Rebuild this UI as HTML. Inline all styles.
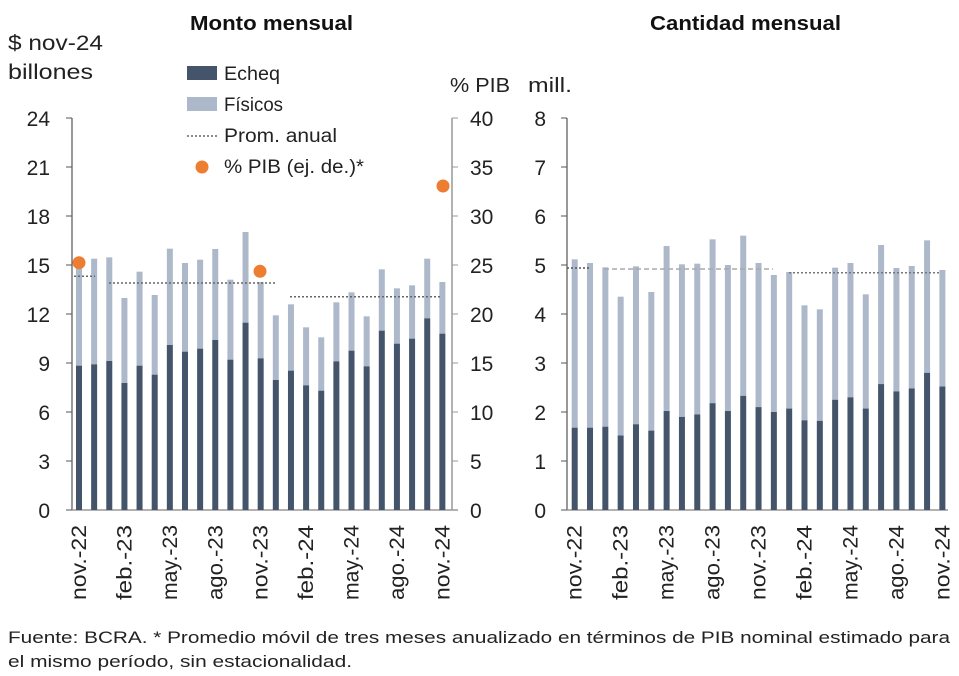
<!DOCTYPE html>
<html><head><meta charset="utf-8"><style>
body{margin:0;background:#fff;}
svg{display:block;font-family:"Liberation Sans",sans-serif;}
</style></head><body>
<svg id="s" width="959" height="676" viewBox="0 0 959 676" xmlns="http://www.w3.org/2000/svg">
<rect width="959" height="676" fill="#fff"/>
<text x="190" y="30" font-size="20" font-weight="bold" fill="#111" textLength="163" lengthAdjust="spacingAndGlyphs">Monto mensual</text>
<text x="650" y="30" font-size="20" font-weight="bold" fill="#111" textLength="191" lengthAdjust="spacingAndGlyphs">Cantidad mensual</text>
<text x="8" y="50" font-size="21" fill="#222" textLength="95" lengthAdjust="spacingAndGlyphs">$ nov-24</text>
<text x="8" y="79" font-size="21" fill="#222" textLength="85" lengthAdjust="spacingAndGlyphs">billones</text>
<text x="450" y="92" font-size="20" fill="#222" textLength="60" lengthAdjust="spacingAndGlyphs">% PIB</text>
<text x="528" y="92" font-size="20" fill="#222" textLength="44" lengthAdjust="spacingAndGlyphs">mill.</text>
<rect x="187" y="66" width="30" height="14" fill="#44546a"/>
<text x="224" y="80" font-size="19" fill="#222" textLength="56" lengthAdjust="spacingAndGlyphs">Echeq</text>
<rect x="187" y="97" width="30" height="14" fill="#adb9ca"/>
<text x="224" y="111" font-size="19" fill="#222" textLength="59" lengthAdjust="spacingAndGlyphs">Físicos</text>
<line x1="187" y1="136" x2="217" y2="136" stroke="#666" stroke-width="1.5" stroke-dasharray="2,2"/>
<text x="224" y="142" font-size="19" fill="#222" textLength="113" lengthAdjust="spacingAndGlyphs">Prom. anual</text>
<circle cx="202" cy="167" r="6.5" fill="#ed7d31"/>
<text x="224" y="173" font-size="19" fill="#222" textLength="140" lengthAdjust="spacingAndGlyphs">% PIB (ej. de.)*</text>
<g id="g"></g>
<text x="8" y="643" font-size="17" fill="#222" textLength="942" lengthAdjust="spacingAndGlyphs">Fuente: BCRA. * Promedio móvil de tres meses anualizado en términos de PIB nominal estimado para</text>
<text x="8" y="667" font-size="17" fill="#222" textLength="344" lengthAdjust="spacingAndGlyphs">el mismo período, sin estacionalidad.</text>
</svg>
<script>
var g=document.getElementById('g'),h='';
function L(a,b,c,d,col,w,da){h+='<line x1="'+a+'" y1="'+b+'" x2="'+c+'" y2="'+d+'" stroke="'+col+'" stroke-width="'+(w||1)+'"'+(da?' stroke-dasharray="'+da+'"':'')+'/>';}
function T(x,y,t,a,rot){h+='<text x="'+x+'" y="'+y+'" font-size="21" fill="#222" text-anchor="'+a+'"'+(rot?' transform="rotate(-90 '+x+' '+y+')" textLength="75" lengthAdjust="spacingAndGlyphs"':'')+'>'+t+'</text>';}
var lt=[130,116,112,234,155,225,86,129,119,87,179,36,186,286,253,322,352,247,217,289,148,205,196,116,186];
var dk=[437,433,423,489,437,464,375,395,386,360,419,308,415,480,452,496,512,424,392,439,332,371,356,295,341];
lt[0]=125;
var labs=['nov.-22','feb.-23','may.-23','ago.-23','nov.-23','feb.-24','may.-24','ago.-24','nov.-24'];
L(72,118,72,510,'#555',1.2);L(452,118,452,510,'#999',1.5);L(72,510,458,510,'#999',1.5);
for(var i=0;i<=8;i++){var y=510-i*49;L(66,y,72,y,'#555');T(50,y+8,i*3,'end');L(452,y,458,y,'#999');}
for(var i=0;i<=8;i++){var y=510-i*49;T(470,y+8,i*5,'start');}
for(var i=0;i<25;i++){var x=79+i*15.14;var yl=lt[i]/3+220,yd=dk[i]/3+220;
h+='<rect x="'+(x-3)+'" y="'+yl+'" width="6" height="'+(yd-yl)+'" fill="#adb9ca"/>';
h+='<rect x="'+(x-3)+'" y="'+yd+'" width="6" height="'+(510-yd)+'" fill="#44546a"/>';
if(i%3==0)T(x+7,525,labs[i/3],'end',1);}
L(74,276.3,95,276.3,'#666',1.5,'2,2');L(109,283,277,283,'#666',1.5,'2,2');L(290,296.7,442,296.7,'#666',1.5,'2,2');
h+='<circle cx="79" cy="262.7" r="6.5" fill="#ed7d31"/><circle cx="260" cy="271.3" r="6.5" fill="#ed7d31"/><circle cx="443" cy="186" r="6.5" fill="#ed7d31"/>';
var rl=[118,129,142,230,139,216,78,133,131,58,135,47,129,165,156,256,268,143,129,223,75,144,138,61,150];
var rd=[1.68,1.68,1.7,1.52,1.75,1.62,2.02,1.9,1.95,2.18,2.02,2.33,2.1,2.0,2.07,1.83,1.82,2.25,2.3,2.07,2.57,2.42,2.48,2.8,2.52];
L(567,118,567,510,'#555',1.2);L(567,510,948,510,'#999',1.5);
for(var i=0;i<=8;i++){var y=510-i*49;L(561,y,567,y,'#555');T(546,y+8,i,'end');}
for(var i=0;i<25;i++){var x=574.7+i*15.32;var yl=rl[i]/3+220,yd=510-rd[i]*49;
h+='<rect x="'+(x-3)+'" y="'+yl+'" width="6" height="'+(yd-yl)+'" fill="#adb9ca"/>';
h+='<rect x="'+(x-3)+'" y="'+yd+'" width="6" height="'+(510-yd)+'" fill="#44546a"/>';
if(i%3==0)T(x+7,525,labs[i/3],'end',1);}
L(567,268,590,268,'#555',1.5,'2,2');L(604,269,773,269,'#aaa',1.5,'5,3');L(789,272.7,940,272.7,'#777',1.5,'2,2');
g.innerHTML=h;
</script>
</body></html>
